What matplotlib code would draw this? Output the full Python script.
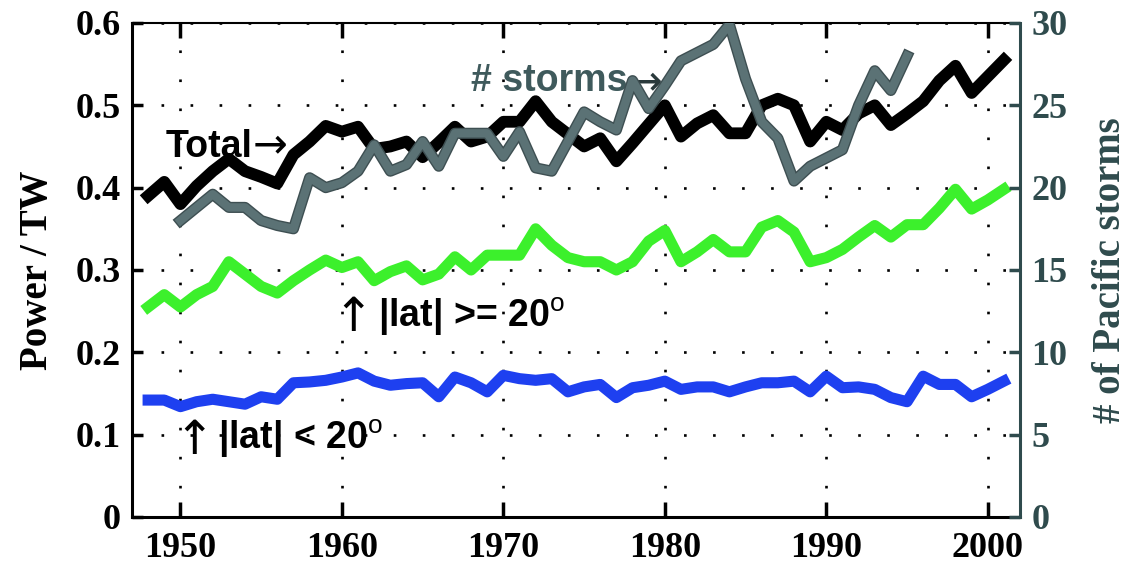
import matplotlib
matplotlib.use("Agg")
import matplotlib.pyplot as plt

years = list(range(1948, 2002))
storm_years = list(range(1950, 1996))

total = [0.39, 0.407, 0.38, 0.402, 0.42, 0.435, 0.42, 0.413, 0.405, 0.44,
         0.456, 0.475, 0.468, 0.474, 0.447, 0.45, 0.456, 0.437, 0.455, 0.474,
         0.456, 0.462, 0.48, 0.48, 0.505, 0.48, 0.465, 0.45, 0.46, 0.432,
         0.454, 0.477, 0.50, 0.462, 0.478, 0.488, 0.466, 0.466, 0.50, 0.508,
         0.50, 0.456, 0.48, 0.47, 0.49, 0.50, 0.476, 0.49, 0.505, 0.53,
         0.548, 0.515, 0.535, 0.555]

high_lat = [0.255, 0.27, 0.255, 0.27, 0.28, 0.31, 0.295, 0.28, 0.272, 0.287,
            0.30, 0.312, 0.303, 0.31, 0.287, 0.298, 0.305, 0.288, 0.295, 0.316,
            0.30, 0.318, 0.318, 0.318, 0.35, 0.33, 0.315, 0.31, 0.31, 0.30,
            0.31, 0.335, 0.348, 0.31, 0.322, 0.337, 0.322, 0.322, 0.352, 0.36,
            0.346, 0.31, 0.315, 0.325, 0.34, 0.354, 0.34, 0.355, 0.355, 0.375,
            0.398, 0.374, 0.385, 0.398]

low_lat = [0.142, 0.142, 0.134, 0.14, 0.143, 0.14, 0.137, 0.146, 0.143, 0.163,
           0.164, 0.166, 0.17, 0.175, 0.165, 0.16, 0.162, 0.163, 0.146, 0.17,
           0.163, 0.152, 0.172, 0.168, 0.166, 0.168, 0.152, 0.158, 0.161, 0.145,
           0.157, 0.16, 0.165, 0.155, 0.158, 0.158, 0.152, 0.158, 0.163, 0.163,
           0.165, 0.152, 0.171, 0.157, 0.158, 0.155, 0.145, 0.14, 0.171, 0.161,
           0.161, 0.146, 0.155, 0.165]

storms = [18.0, 18.8, 19.6, 18.8, 18.8, 18.0, 17.7, 17.5, 20.6, 20.0,
          20.3, 21.0, 22.6, 21.0, 21.4, 22.8, 21.3, 23.3, 23.3, 23.3,
          21.9, 23.4, 21.2, 21.0, 22.8, 24.6, 24.0, 23.5, 26.5, 24.8,
          26.2, 27.7, 28.2, 28.7, 29.9, 26.6, 24.0, 23.0, 20.4, 21.3,
          21.8, 22.3, 25.0, 27.1, 25.9, 28.0]

xticks = [1950, 1960, 1970, 1980, 1990, 2000]
yticks = [0, 0.1, 0.2, 0.3, 0.4, 0.5, 0.6]
yticklabels = ['0', '0.1', '0.2', '0.3', '0.4', '0.5', '0.6']
sticks = [0, 5, 10, 15, 20, 25, 30]

teal = '#2f4b4d'
storm_col = '#5b7275'
serif = 'Liberation Serif'
sans = 'Liberation Sans'

plt.rcParams['mathtext.fontset'] = 'custom'
plt.rcParams['mathtext.rm'] = 'Liberation Sans'
plt.rcParams['mathtext.bf'] = 'Liberation Sans:bold'

fig = plt.figure(figsize=(11.29, 5.70), dpi=100)
ax = fig.add_axes([0.1169, 0.0930, 0.7866, 0.8667])
ax2 = ax.twinx()

ax.plot(years, total, color='black', lw=8.5, solid_joinstyle='round')
ax.plot(years, high_lat, color='#3cf02c', lw=8, solid_joinstyle='round')
ax.plot(years, low_lat, color='#1e40f0', lw=8, solid_joinstyle='round')
ax2.plot(storm_years, storms, color='#3e4f52', lw=8, solid_joinstyle='round')
ax2.plot(storm_years, storms, color=storm_col, lw=6, solid_joinstyle='round')

ax.set_xlim(1947, 2002)
ax.set_ylim(0, 0.6)
ax2.set_ylim(0, 30)

ax.set_xticks(xticks)
ax.set_xticklabels([str(y) for y in xticks], fontfamily=serif, fontweight='bold', fontsize=26)
ax.set_yticks(yticks)
ax.set_yticklabels(yticklabels, fontfamily=serif, fontweight='bold', fontsize=26)
ax2.set_yticks(sticks)
ax2.set_yticklabels([str(s) for s in sticks], fontfamily=serif, fontweight='bold',
                    fontsize=26, color=teal)

ax.tick_params(axis='x', direction='in', length=11, width=2.5, pad=11, top=True)
ax.tick_params(axis='y', direction='in', length=8, width=2.5, pad=8)
ax2.tick_params(axis='y', direction='in', length=8, width=2.5, pad=8, color=teal)

ax.grid(True, color='black', linestyle=(0, (1, 10)), linewidth=1.9)

for s in ['left', 'bottom']:
    ax.spines[s].set_linewidth(2.2)
ax.spines['top'].set_linewidth(1.5)
ax2.spines['right'].set_color(teal)
ax2.spines['right'].set_linewidth(2.2)
ax2.spines['left'].set_visible(False)
ax2.spines['top'].set_visible(False)
ax2.spines['bottom'].set_visible(False)

ax.set_ylabel('Power / TW', fontfamily=serif, fontweight='bold', fontsize=28, labelpad=14)
ax2.set_ylabel('# of Pacific storms', fontfamily=serif, fontweight='bold', fontsize=28,
               color=teal, rotation=90, labelpad=18)

# annotations
ax.text(1949.07, 0.437, 'Total', fontfamily=sans, fontweight='bold', fontsize=27, color='black')
ax.text(1954.5, 0.437, '\u2192', fontfamily='DejaVu Sans', fontsize=30, color='black')
ax.text(1967.98, 0.517, '# storms', fontfamily=sans, fontweight='bold', fontsize=27, color='#3f5a5c')
ax.text(1977.7, 0.513, '\u2192', fontfamily='DejaVu Sans', fontsize=30, color='#2a3a3c')
ax.text(1959.5, 0.226, '\u2191', fontfamily='DejaVu Sans', fontsize=34, color='black')
ax.text(1962.25, 0.2305, '|lat| >= 20$^{\\rm o}$', fontfamily=sans, fontweight='bold', fontsize=27)
ax.text(1949.6, 0.076, '\u2191', fontfamily='DejaVu Sans', fontsize=34, color='black')
ax.text(1952.3, 0.082, '|lat| < 20$^{\\rm o}$', fontfamily=sans, fontweight='bold', fontsize=27)

fig.savefig('out.png', dpi=100)
